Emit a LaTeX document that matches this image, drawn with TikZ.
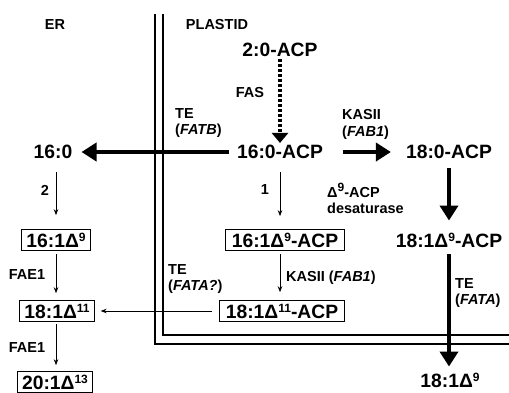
\documentclass[tikz,border=0pt]{standalone}
\usepackage{fontspec}
\setmainfont{Liberation Sans}
\usetikzlibrary{arrows.meta}
\newcommand{\expo}[1]{\raisebox{6pt}{\fontsize{12}{12}\selectfont #1}}

\begin{document}
\begin{tikzpicture}[x=1pt,y=-1pt,
  big/.style={font=\fontsize{19.3}{22}\selectfont\bfseries,inner sep=2pt},
  boxed/.style={big,draw,line width=1.1pt,inner xsep=4.5pt,inner ysep=3pt},
  lab/.style={font=\fontsize{14.5}{16.5}\selectfont\bfseries,align=left,inner sep=0pt},
  thin/.style={-{Stealth[length=6pt,width=4.5pt]},line width=0.8pt},
  fat/.style={-{Triangle[length=15pt,width=18pt]},line width=4.5pt},
  dots/.style={-{Triangle[length=10pt,width=16pt]},line width=3.5pt,
    dash pattern=on 3pt off 2pt},
  membrane/.style={line width=1.6pt}
]
\useasboundingbox (0,0) rectangle (509,392);

% Compartments.
\draw[membrane] (155,14) -- (155,344) -- (509,344);
\draw[membrane] (163,14) -- (163,335) -- (509,335);
\node[lab] (erlab) at (55,25) {ER};
\node[lab] (plastidlab) at (217,25) {PLASTID};

% Plastid pathway.
\node[big] (c2acp) at (280,50) {2:0-ACP};
\node[big] (c16acp) at (280,152) {16:0-ACP};
\node[big] (c18acp) at (449,152) {18:0-ACP};
\node[boxed,inner xsep=6pt] (c161acp) at (285,240) {16:1Δ\expo{9}-ACP};
\node[big] (c181acp) at (449,240) {18:1Δ\expo{9}-ACP};
\node[boxed,inner xsep=6pt] (c1811acp) at (282,311) {18:1Δ\expo{11}-ACP};
\node[big] (c181) at (450,380) {18:1Δ\expo{9}};

% ER pathway.
\node[big] (e160) at (53,152) {16:0};
\node[boxed] (e161) at (56,240) {16:1Δ\expo{9}};
\node[boxed] (e181) at (57,311) {18:1Δ\expo{11}};
\node[boxed] (e201) at (55,382) {20:1Δ\expo{13}};

\draw[dots] (c2acp) -- (c16acp);
\draw[fat,shorten <=6pt,shorten >=7pt] (c16acp.west) -- (e160.east);
\draw[fat,shorten <=18pt,shorten >=13pt] (c16acp.east) -- (c18acp.west);
\draw[fat,shorten <=7pt,shorten >=10pt] (c18acp.south) -- (c18acp.south |- c181acp.north);
\draw[fat,shorten <=5pt,shorten >=4pt] (c181acp.south) -- (c181acp.south |- c181.north);
\draw[thin,shorten <=11pt,shorten >=13pt] (c16acp.south) -- (c16acp.south |- c161acp.north);
\draw[thin,shorten <=3pt,shorten >=8pt] (c161acp.south -| c16acp) -- (c16acp |- c1811acp.north);
\draw[thin,shorten <=7pt,shorten >=6pt] (c1811acp.west) -- (e181.east);
\draw[thin,shorten <=11pt,shorten >=14pt] (e160.south -| e161) -- (e161.north);
\draw[thin,shorten <=3pt,shorten >=7pt] (e161.south) -- (e161.south |- e181.north);
\draw[thin,shorten <=2pt,shorten >=6pt] (e181.south -| e161) -- (e161 |- e201.north);

% Enzyme labels.
\node[lab] (fas) at (250,93) {FAS};
\node[lab,anchor=west] (tefatb) at (175,123) {TE\\(\textit{FATB})};
\node[lab,anchor=west] (kas1) at (342,124.5) {KASII\\(\textit{FAB1})};
\node[lab,anchor=west] (desat) at (327,198.5) {Δ\expo{9}-ACP\\desaturase};
\node[lab] (one) at (265,190) {1};
\node[lab] (two) at (45,190) {2};
\node[lab,anchor=west] (kas2) at (286,278) {KASII (\textit{FAB1})};
\node[lab,anchor=west] (tefata2) at (168,279) {TE\\(\textit{FATA?})};
\node[lab,anchor=west] (tefata) at (455,293) {TE\\(\textit{FATA})};
\node[lab] (fae1) at (27,275) {FAE1};
\node[lab] (fae2) at (27,348) {FAE1};
\end{tikzpicture}
\end{document}
